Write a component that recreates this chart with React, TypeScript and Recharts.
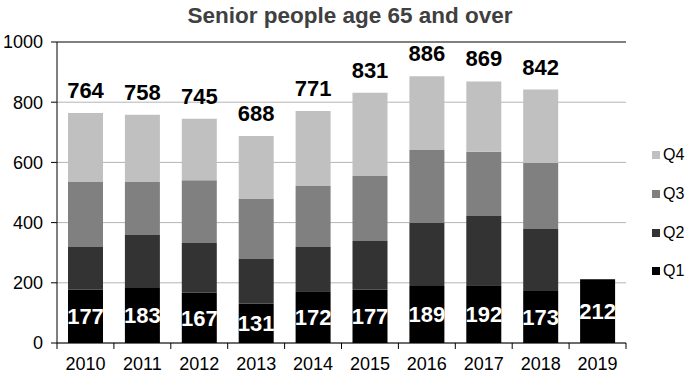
import React from 'react';
import {
    BarChart,
    Bar,
    XAxis,
    YAxis,
    CartesianGrid,
    Legend,
    LabelList,
    ReferenceLine,
} from 'recharts';

const years = ['2010', '2011', '2012', '2013', '2014', '2015', '2016', '2017', '2018', '2019'];
const q1 = [177, 183, 167, 131, 172, 177, 189, 192, 173, 212];
const q2 = [142, 176, 165, 148, 147, 162, 210, 230, 206, null];
const q3 = [216, 176, 209, 199, 203, 216, 242, 213, 219, null];
const q4 = [229, 223, 204, 210, 249, 276, 245, 234, 244, null];
const totals = [764, 758, 745, 688, 771, 831, 886, 869, 842, null];
const yTicks = [0, 200, 400, 600, 800, 1000];

const COLORS = { Q1: '#000000', Q2: '#333333', Q3: '#808080', Q4: '#c0c0c0' };
const FONT = 'Arial, "Liberation Sans", sans-serif';

const rows = years.map((year, i) => ({
    year,
    Q1: q1[i],
    Q2: q2[i],
    Q3: q3[i],
    Q4: q4[i],
}));

// bottom axis: labels under each year, tick marks on the category boundaries
const YearTick = (props: any) => {
    const { x, y, payload, index } = props;
    const half = payload && payload.offset ? payload.offset : 28.45;
    return (
        <g>
            <line x1={x - half} y1={y} x2={x - half} y2={y + 6} stroke="#000" />
            {index === years.length - 1 && (
                <line x1={x + half} y1={y} x2={x + half} y2={y + 6} stroke="#000" />
            )}
            <text x={x} y={y + 14} dy="0.71em" textAnchor="middle" fill="#000" fontSize={18} fontFamily={FONT}>
                {payload.value}
            </text>
        </g>
    );
};

const TotalLabel = (props: any) => {
    const { x, y, width, index } = props;
    const total = totals[index];
    if (total == null) return null;
    return (
        <text x={x + width / 2} y={y - 15} textAnchor="middle" fill="#000" fontSize={22} fontWeight={700} fontFamily={FONT}>
            {total}
        </text>
    );
};

const LegendBox = () => {
    const items = ['Q4', 'Q3', 'Q2', 'Q1'] as const;
    return (
        <div>
            {items.map((k) => (
                <div key={k} style={{ height: 38.7, display: 'flex', alignItems: 'center', paddingLeft: 26 }}>
                    <div style={{ width: 8, height: 8, background: COLORS[k], marginRight: 3 }} />
                    <span style={{ fontSize: 16, fontFamily: FONT, color: '#000' }}>{k}</span>
                </div>
            ))}
        </div>
    );
};

export default function App() {
    return (
        <div style={{ position: 'relative', width: 700, height: 390, background: '#fff' }}>
            <style>{'body{margin:0}'}</style>
            <div
                style={{
                    position: 'absolute',
                    top: 3,
                    left: 0,
                    width: 700,
                    textAlign: 'center',
                    fontFamily: FONT,
                    fontWeight: 700,
                    fontSize: 22.5,
                    color: '#404040',
                    lineHeight: '26px',
                }}
            >
                Senior people age 65 and over
            </div>
            <BarChart
                width={700}
                height={390}
                data={rows}
                margin={{ top: 42, right: 0, bottom: 0, left: 0 }}
                barSize={35}
            >
                <CartesianGrid vertical={false} stroke="#b4b4b4" />
                <XAxis
                    dataKey="year"
                    height={47}
                    tickLine={false}
                    tickSize={0}
                    tickMargin={0}
                    axisLine={{ stroke: '#000' }}
                    tick={<YearTick />}
                    interval={0}
                />
                <YAxis
                    width={57}
                    domain={[0, 1000]}
                    ticks={yTicks}
                    tickSize={6}
                    tickMargin={8}
                    axisLine={{ stroke: '#000' }}
                    tickLine={{ stroke: '#000' }}
                    tick={{ fill: '#000', fontSize: 18, fontFamily: FONT }}
                />
                <YAxis yAxisId="right" orientation="right" width={0} tick={false} tickLine={false} axisLine={{ stroke: '#999' }} />
                <ReferenceLine y={1000} stroke="#808080" strokeWidth={2} />
                <Legend
                    layout="vertical"
                    align="right"
                    verticalAlign="middle"
                    content={<LegendBox />}
                    wrapperStyle={{ width: 74, right: 0, top: 136 }}
                />
                <Bar dataKey="Q1" stackId="a" fill={COLORS.Q1} isAnimationActive={false}>
                    <LabelList dataKey="Q1" position="center" fill="#fff" fontSize={22} fontWeight={700} fontFamily={FONT} />
                </Bar>
                <Bar dataKey="Q2" stackId="a" fill={COLORS.Q2} isAnimationActive={false} />
                <Bar dataKey="Q3" stackId="a" fill={COLORS.Q3} isAnimationActive={false} />
                <Bar dataKey="Q4" stackId="a" fill={COLORS.Q4} isAnimationActive={false}>
                    <LabelList dataKey="Q4" content={<TotalLabel />} />
                </Bar>
            </BarChart>
        </div>
    );
}
